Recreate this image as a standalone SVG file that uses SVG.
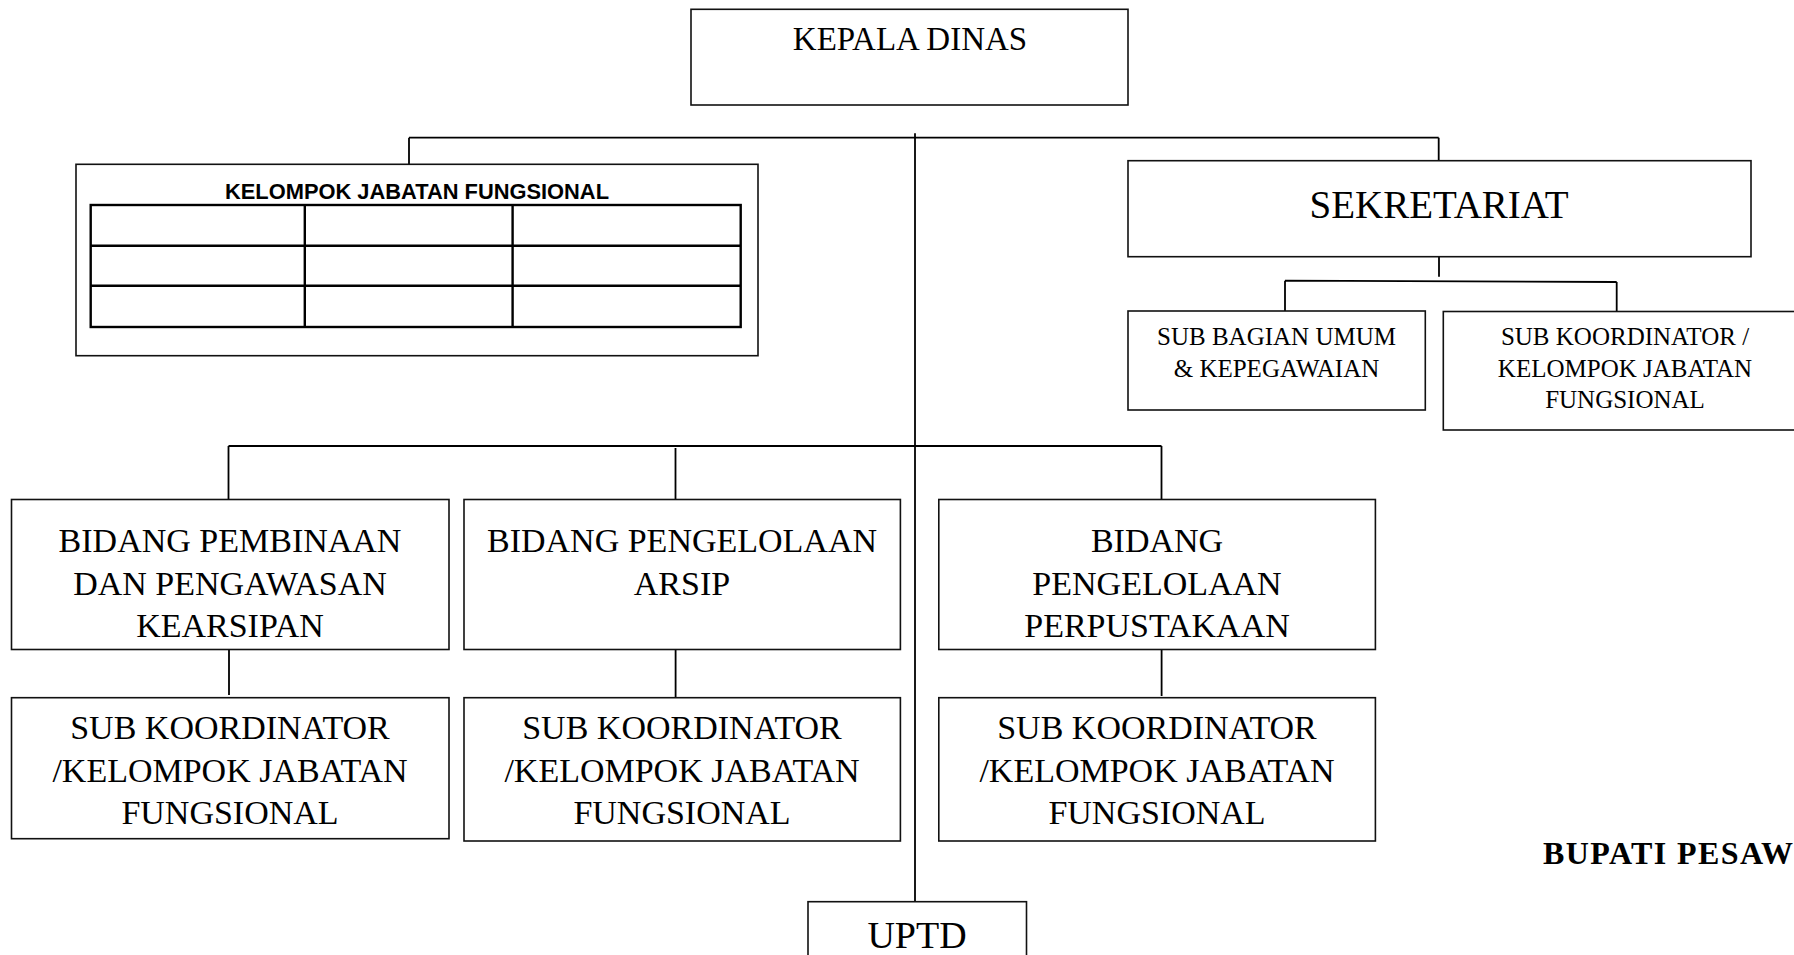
<svg xmlns="http://www.w3.org/2000/svg" width="1794" height="955" viewBox="0 0 1794 955">
<style>
.box{fill:#fff;stroke:#111;stroke-width:1.6}
.ln{fill:none;stroke:#000;stroke-width:1.8}
.tb{fill:none;stroke:#000;stroke-width:2.4}
.t{font-family:"Liberation Serif","Times New Roman",serif;fill:#000;text-anchor:middle}
.s25{font-size:25px}
.s34{font-size:34px}
</style>
<rect width="1794" height="955" fill="#fff"/>
<g id="connectors">
<path class="ln" d="M915 133.3V901.7"/>
<path class="ln" d="M409 137.7H1438.7M409 137.7V164.3M1438.7 137.7V160.7"/>
<path class="ln" d="M1439 256.7V276.7"/>
<path class="ln" d="M1285 280.7L1616.7 282M1285 280.7V311M1616.7 282V311.5"/>
<path class="ln" d="M228.5 446H1161.5M228.5 446V499.5M675.5 448V499.5M1161.5 446V499.5"/>
<path class="ln" d="M229 649.5V695M675.6 649.5V697.7M1161.6 649.5V696"/>
</g>
<g id="kepala-dinas">
<rect class="box" x="691" y="9.3" width="437" height="95.7"/>
<text class="t" x="910" y="50" font-size="33">KEPALA DINAS</text>
</g>
<g id="kelompok-jabatan-fungsional">
<rect class="box" x="76" y="164.3" width="682" height="191.4"/>
<text x="417" y="198.5" font-family="'Liberation Sans',Arial,sans-serif" font-weight="bold" font-size="22" text-anchor="middle" textLength="384" lengthAdjust="spacingAndGlyphs">KELOMPOK JABATAN FUNGSIONAL</text>
<rect class="tb" x="90.7" y="205" width="650" height="122"/>
<path class="tb" d="M90.7 245.7H740.7M90.7 285.7H740.7M304.8 205V327M512.6 205V327"/>
</g>
<g id="sekretariat">
<rect class="box" x="1128" y="160.7" width="623" height="96"/>
<text class="t" x="1439" y="218" font-size="39">SEKRETARIAT</text>
</g>
<g id="sub-bagian-umum">
<rect class="box" x="1128" y="311" width="297.3" height="99"/>
<text class="t s25" x="1276.5" y="345">SUB BAGIAN UMUM</text>
<text class="t s25" x="1276.5" y="376.7">&amp; KEPEGAWAIAN</text>
</g>
<g id="sub-koordinator-sekretariat">
<rect class="box" x="1443.3" y="311.5" width="400" height="118.5"/>
<text class="t s25" x="1625" y="345">SUB KOORDINATOR /</text>
<text class="t s25" x="1625" y="376.7">KELOMPOK JABATAN</text>
<text class="t s25" x="1625" y="408">FUNGSIONAL</text>
</g>
<g id="bidang-pembinaan">
<rect class="box" x="11.5" y="499.5" width="437.5" height="150"/>
<text class="t s34" x="230" y="552">BIDANG PEMBINAAN</text>
<text class="t s34" x="230" y="594.5">DAN PENGAWASAN</text>
<text class="t s34" x="230" y="637">KEARSIPAN</text>
</g>
<g id="bidang-arsip">
<rect class="box" x="464" y="499.5" width="436.4" height="150"/>
<text class="t s34" x="682" y="552">BIDANG PENGELOLAAN</text>
<text class="t s34" x="682" y="594.5">ARSIP</text>
</g>
<g id="bidang-perpustakaan">
<rect class="box" x="938.8" y="499.5" width="436.6" height="150"/>
<text class="t s34" x="1157" y="552">BIDANG</text>
<text class="t s34" x="1157" y="594.5">PENGELOLAAN</text>
<text class="t s34" x="1157" y="637">PERPUSTAKAAN</text>
</g>
<g id="sub-koordinator-1">
<rect class="box" x="11.5" y="697.7" width="437.5" height="141"/>
<text class="t s34" x="230" y="739">SUB KOORDINATOR</text>
<text class="t s34" x="230" y="781.5">/KELOMPOK JABATAN</text>
<text class="t s34" x="230" y="824">FUNGSIONAL</text>
</g>
<g id="sub-koordinator-2">
<rect class="box" x="464" y="697.7" width="436.4" height="143.3"/>
<text class="t s34" x="682" y="739">SUB KOORDINATOR</text>
<text class="t s34" x="682" y="781.5">/KELOMPOK JABATAN</text>
<text class="t s34" x="682" y="824">FUNGSIONAL</text>
</g>
<g id="sub-koordinator-3">
<rect class="box" x="938.8" y="697.7" width="436.6" height="143.3"/>
<text class="t s34" x="1157" y="739">SUB KOORDINATOR</text>
<text class="t s34" x="1157" y="781.5">/KELOMPOK JABATAN</text>
<text class="t s34" x="1157" y="824">FUNGSIONAL</text>
</g>
<g id="uptd">
<rect class="box" x="808" y="901.7" width="218.5" height="70"/>
<text class="t" x="917" y="948" font-size="38">UPTD</text>
</g>
<g id="bupati">
<text x="1543" y="864" font-family="'Liberation Serif','Times New Roman',serif" font-weight="bold" font-size="32" textLength="250" lengthAdjust="spacing">BUPATI PESAW</text>
</g>
</svg>
